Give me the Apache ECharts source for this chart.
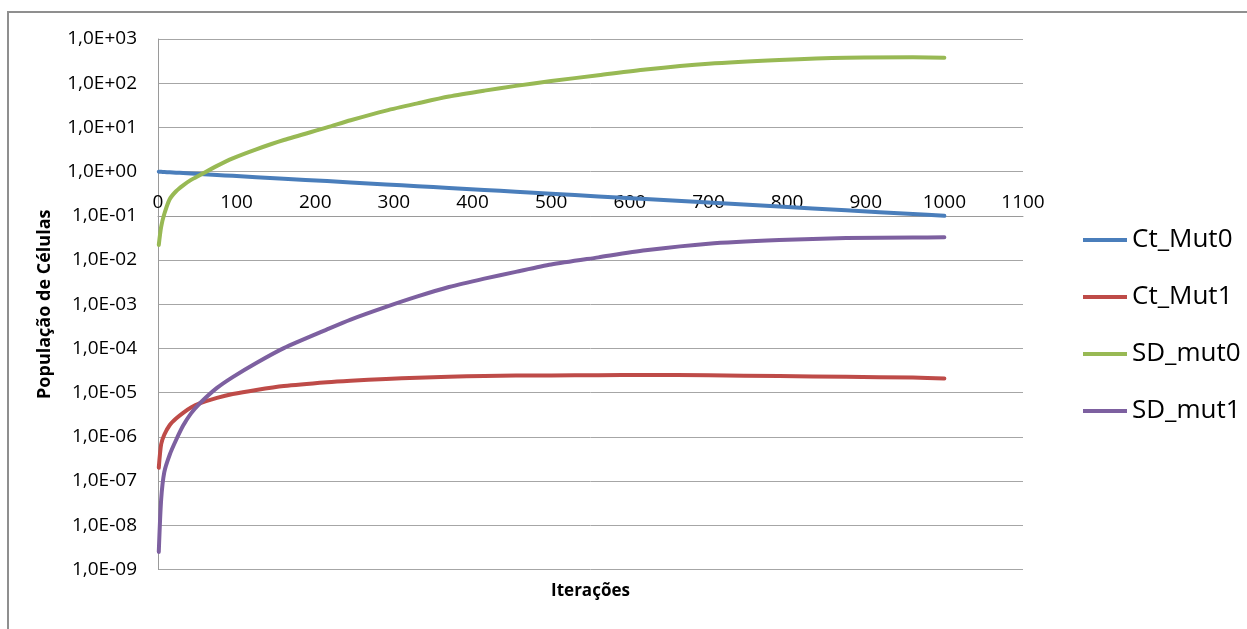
<!DOCTYPE html>
<html>
<head>
<meta charset="utf-8">
<script src="https://cdn.jsdelivr.net/npm/echarts@6/dist/echarts.min.js"></script>
<style>
html,body{margin:0;padding:0;background:#fff;}
#chart{width:1247px;height:629px;}
</style>
</head>
<body>
<div id="chart"></div>
<script>
// Iterations at which values were read
const iterations = [1, 4, 8, 15, 23, 32, 42, 53, 75, 95, 125, 160, 215, 245, 290, 330, 370, 415, 455, 500, 560, 620, 700, 790, 875, 960, 1000];

const ctMut0 = [0.998, 0.991, 0.982, 0.966, 0.948, 0.929, 0.908, 0.885, 0.841, 0.803, 0.750, 0.692, 0.610, 0.569, 0.513, 0.468, 0.427, 0.385, 0.351, 0.316, 0.275, 0.240, 0.200, 0.162, 0.133, 0.110, 0.100];
const ctMut1 = [2.0e-7, 6.8e-7, 1.12e-6, 1.86e-6, 2.6e-6, 3.5e-6, 4.6e-6, 5.7e-6, 7.6e-6, 9.3e-6, 1.15e-5, 1.41e-5, 1.72e-5, 1.86e-5, 2.04e-5, 2.17e-5, 2.29e-5, 2.38e-5, 2.43e-5, 2.45e-5, 2.48e-5, 2.51e-5, 2.47e-5, 2.38e-5, 2.29e-5, 2.19e-5, 2.1e-5];
const sdMut0 = [0.022, 0.056, 0.11, 0.24, 0.36, 0.49, 0.65, 0.83, 1.35, 2.0, 3.2, 5.2, 10, 14.5, 24, 35, 50, 68, 87, 112, 151, 204, 275, 335, 378, 385, 376];
const sdMut1 = [2.5e-9, 3.8e-8, 1.6e-7, 4.0e-7, 8.5e-7, 1.8e-6, 3.4e-6, 5.7e-6, 1.28e-5, 2.25e-5, 4.7e-5, 1.02e-4, 2.7e-4, 4.5e-4, 8.7e-4, 1.5e-3, 2.45e-3, 3.8e-3, 5.4e-3, 7.9e-3, 0.0115, 0.0166, 0.0234, 0.0283, 0.0315, 0.0324, 0.0326];

const seriesNames = ['Ct_Mut0', 'Ct_Mut1', 'SD_mut0', 'SD_mut1'];
const seriesValues = [ctMut0, ctMut1, sdMut0, sdMut1];
const seriesColors = ['#4A7EBB', '#BE4B48', '#98B954', '#7D60A0'];

const yTickLabels = ['1,0E-09','1,0E-08','1,0E-07','1,0E-06','1,0E-05','1,0E-04','1,0E-03','1,0E-02','1,0E-01','1,0E+00','1,0E+01','1,0E+02','1,0E+03'];
const yMinExp = -9;
const yMaxExp = 3;

const FONT = '"Open Sans", "Noto Sans", sans-serif';
const chart = echarts.init(document.getElementById('chart'));

const series = seriesNames.map((name, i) => ({
  name: name,
  type: 'line',
  xAxisIndex: 0,
  yAxisIndex: 0,
  data: iterations.map((x, j) => [x, seriesValues[i][j]]),
  showSymbol: false,
  smooth: 0.25,
  lineStyle: { width: 4, color: seriesColors[i], cap: 'round', join: 'round' },
  itemStyle: { color: seriesColors[i] },
  z: 3
}));

const plotTop = 39, plotBottom = 569.5;
const decadePx = (plotBottom - plotTop) / (yMaxExp - yMinExp);
const xAxisOffset = -(yMaxExp - (-1)) * decadePx;

chart.setOption({
  animation: false,
  backgroundColor: '#fff',
  graphic: [{
    type: 'rect',
    shape: { x: 8, y: 12, width: 1400, height: 800 },
    style: { fill: null, stroke: '#8f8f8f', lineWidth: 2 },
    silent: true
  }],
  grid: { left: 158, right: 224, top: plotTop, bottom: 629 - plotBottom, containLabel: false },
  legend: {
    orient: 'vertical',
    left: 1078,
    top: 220,
    itemWidth: 44,
    itemHeight: 4,
    itemGap: 27,
    icon: 'rect',
    data: seriesNames,
    textStyle: { fontFamily: FONT, fontSize: 26, color: '#000', lineHeight: 30, padding: [0,0,0,0] }
  },
  xAxis: [{
    type: 'value',
    position: 'top',
    offset: xAxisOffset,
    min: 0, max: 1100, interval: 100,
    axisLine: { show: true, lineStyle: { color: '#9a9a9a', width: 1 } },
    axisTick: { show: false },
    splitLine: { show: false },
    axisLabel: { fontFamily: FONT, fontSize: 19, color: '#000', margin: 4, showMinLabel: true, showMaxLabel: true,
      formatter: function (v) { return String(v); } }
  }, {
    type: 'value',
    position: 'bottom',
    min: 0, max: 1100,
    axisLine: { show: false },
    axisTick: { show: false },
    axisLabel: { show: false },
    splitLine: { show: false },
    name: 'Iterações',
    nameLocation: 'middle',
    nameGap: 13,
    nameTextStyle: { fontFamily: FONT, fontSize: 17, fontWeight: 'bold', color: '#000', verticalAlign: 'top' }
  }],
  yAxis: {
    type: 'log',
    logBase: 10,
    min: Math.pow(10, yMinExp),
    max: Math.pow(10, yMaxExp),
    interval: 1,
    axisLine: { show: true, lineStyle: { color: '#9a9a9a', width: 1 } },
    axisTick: { show: false },
    splitLine: { show: true, lineStyle: { color: '#a6a6a6', width: 1 } },
    axisLabel: {
      fontFamily: FONT, fontSize: 19, color: '#000', margin: 21,
      formatter: function (v) {
        const e = Math.round(Math.log10(v));
        return yTickLabels[e - yMinExp] || '';
      }
    },
    name: 'População de Células',
    nameLocation: 'middle',
    nameRotate: 90,
    nameGap: 104,
    nameTextStyle: { fontFamily: FONT, fontSize: 18, fontWeight: 'bold', color: '#000' }
  },
  series: series
});
</script>
</body>
</html>
